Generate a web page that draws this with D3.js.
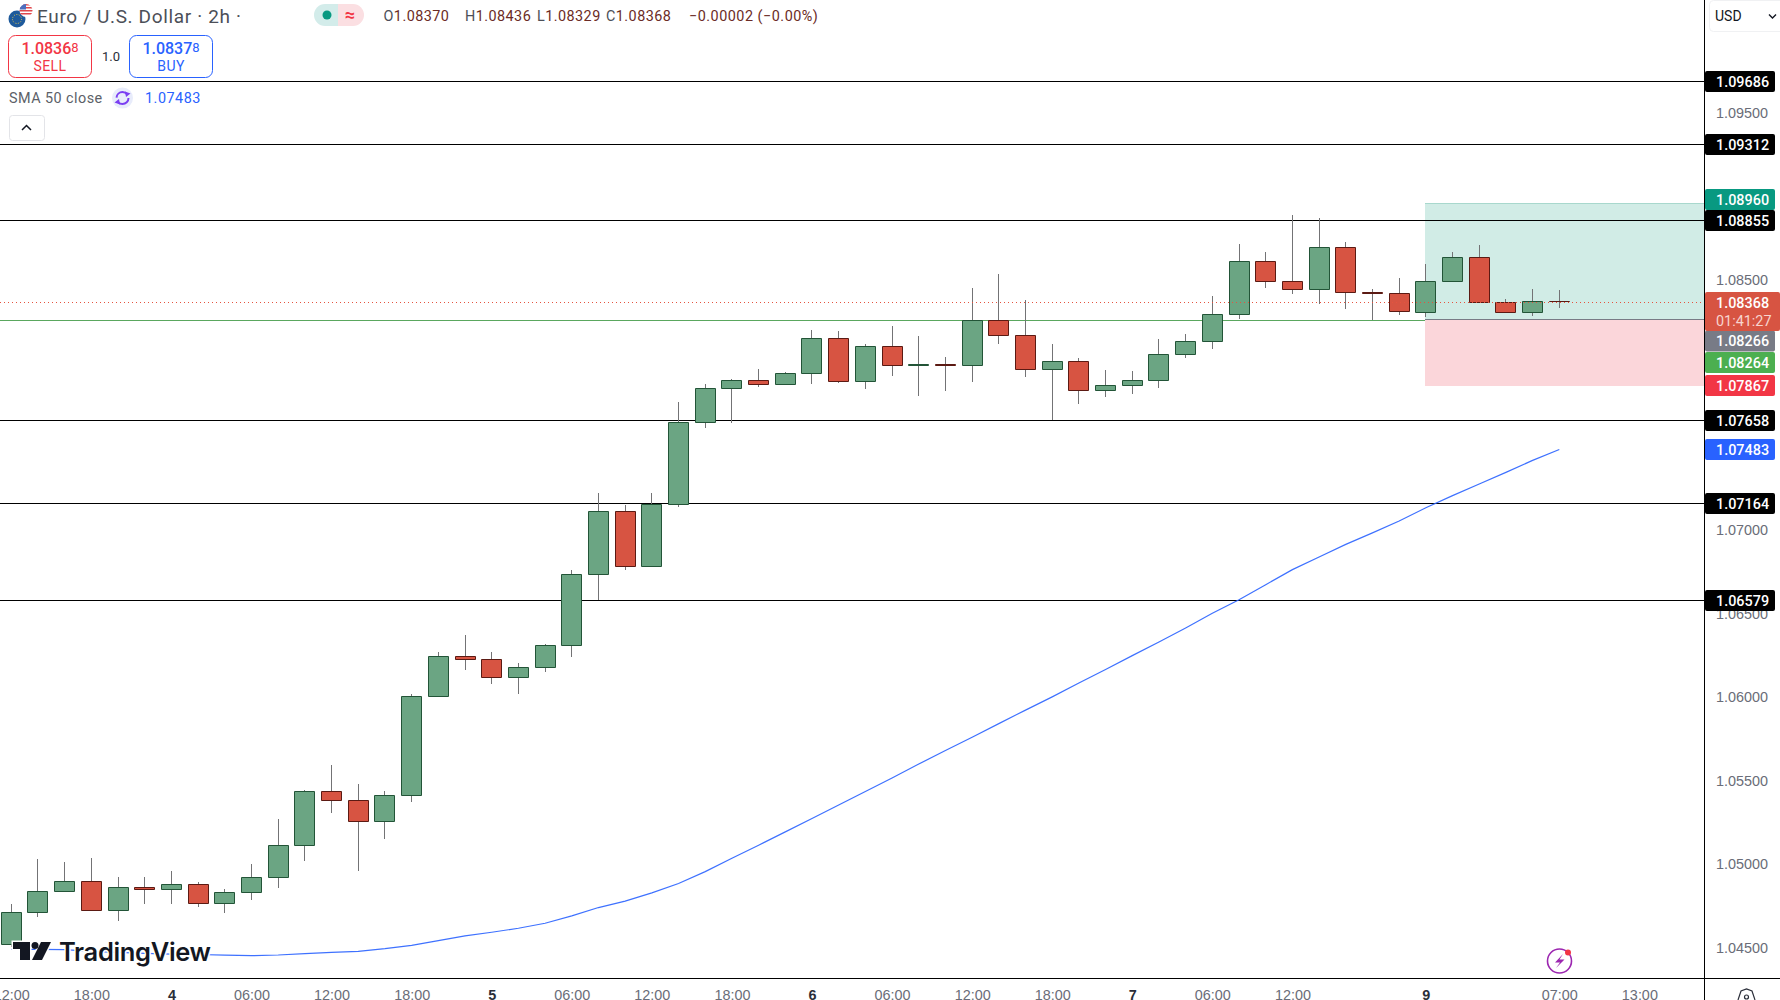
<!DOCTYPE html>
<html>
<head>
  <meta charset="utf-8">
  <script src="https://cdn.jsdelivr.net/npm/d3@7"></script>
  <style type="text/css">
    html, body { margin: 0; padding: 0; background: #fff; overflow: hidden; }
    svg { display: block; font-family: Roboto, "Noto Sans", sans-serif; }
    .tick text { font-size: 14.4px; }
  </style>
</head>
<body>
<script type="text/javascript">
// Candle values, oldest first
var opens = [1.04519,1.04711,1.04837,1.04897,1.04723,1.04861,1.04849,1.04879,1.04765,1.04831,
  1.04921,1.05112,1.05436,1.05382,1.05256,1.05412,1.06005,1.06245,1.06227,1.06119,
  1.06179,1.06311,1.06736,1.07114,1.06784,1.07156,1.07647,1.07851,1.07899,1.07875,
  1.07941,1.08150,1.07893,1.08102,1.07987,1.07993,1.07989,1.08258,1.08168,1.07965,
  1.08013,1.07839,1.07869,1.07899,1.08055,1.08132,1.08294,1.08612,1.08492,1.08444,
  1.08696,1.08426,1.08420,1.08306,1.08492,1.08636,1.08366,1.08306,1.08370];
var highs = [1.04761,1.05031,1.05013,1.05037,1.04923,1.04923,1.04959,1.04891,1.04855,1.05001,
  1.05270,1.05442,1.05594,1.05480,1.05436,1.06017,1.06271,1.06373,1.06269,1.06203,
  1.06317,1.06760,1.07222,1.07152,1.07222,1.07767,1.07877,1.07905,1.07967,1.07947,
  1.08200,1.08194,1.08116,1.08224,1.08164,1.08039,1.08452,1.08536,1.08378,1.08116,
  1.08031,1.07959,1.07953,1.08144,1.08174,1.08404,1.08716,1.08668,1.08889,1.08871,
  1.08728,1.08446,1.08512,1.08596,1.08668,1.08710,1.08386,1.08446,1.08436];
var lows = [1.04505,1.04685,1.04837,1.04723,1.04661,1.04763,1.04763,1.04745,1.04709,1.04787,
  1.04859,1.05021,1.05308,1.04961,1.05152,1.05374,1.06005,1.06165,1.06081,1.06021,
  1.06153,1.06243,1.06582,1.06764,1.06784,1.07136,1.07609,1.07641,1.07855,1.07867,
  1.07873,1.07879,1.07843,1.07921,1.07801,1.07831,1.07885,1.08112,1.07915,1.07657,
  1.07753,1.07795,1.07813,1.07849,1.08029,1.08082,1.08264,1.08448,1.08412,1.08352,
  1.08322,1.08256,1.08286,1.08274,1.08484,1.08358,1.08306,1.08280,1.08329];
var closes = [1.04711,1.04837,1.04897,1.04723,1.04861,1.04849,1.04879,1.04765,1.04831,1.04921,
  1.05112,1.05436,1.05382,1.05256,1.05412,1.06005,1.06245,1.06227,1.06119,1.06179,
  1.06311,1.06736,1.07114,1.06784,1.07156,1.07647,1.07851,1.07899,1.07875,1.07941,
  1.08150,1.07893,1.08102,1.07989,1.07993,1.07987,1.08258,1.08168,1.07965,1.08013,
  1.07839,1.07869,1.07899,1.08055,1.08132,1.08294,1.08612,1.08492,1.08444,1.08696,
  1.08426,1.08418,1.08312,1.08492,1.08636,1.08366,1.08306,1.08372,1.08368];
var sma50 = [1.04491,1.04491,1.04489,1.04479,1.04473,1.04467,1.04462,1.04460,1.04456,1.04453,
  1.04457,1.04465,1.04473,1.04479,1.04495,1.04515,1.04543,1.04571,1.04593,1.04617,
  1.04647,1.04691,1.04741,1.04779,1.04829,1.04885,1.04956,1.05036,1.05114,1.05194,
  1.05274,1.05355,1.05436,1.05517,1.05600,1.05681,1.05761,1.05842,1.05923,1.06002,
  1.06085,1.06166,1.06249,1.06331,1.06415,1.06503,1.06584,1.06674,1.06764,1.06840,
  1.06915,1.06984,1.07055,1.07134,1.07207,1.07277,1.07346,1.07418,1.07483];

// Support / resistance levels and the long position tool
var levels = [1.09686,1.09312,1.08855,1.07658,1.07164,1.06579];
var lastPrice = 1.08368;
var entryPrice = 1.08266;
var entryLine = 1.08264;
var targetPrice = 1.08960;
var stopPrice = 1.07867;
var positionStart = 53;

// Axis ticks
var priceTicks = [1.045,1.05,1.055,1.06,1.065,1.07,1.085,1.095];
var timeTicks = [0,3,6,9,12,15,18,21,24,27,30,33,36,39,42,45,48,53,58,61];
var timeLabels = ["12:00","18:00","4","06:00","12:00","18:00","5","06:00","12:00","18:00",
  "6","06:00","12:00","18:00","7","06:00","12:00","9","07:00","13:00"];
var dayLabels = ["4","5","6","7","9"];

var width = 1780, height = 1000;
var axisX = 1704, axisY = 978;

var UP_FILL = "#6ba583", UP_LINE = "#225437";
var DOWN_FILL = "#d75442", DOWN_LINE = "#5b1a13";
var WICK = "#737375", BLUE = "#2962ff";

var svg = d3.select("body").append("svg")
  .attr("width", width)
  .attr("height", height);

var x = d3.scaleLinear().domain([0, 58]).range([11.3, 1559.3]);
var y = d3.scaleLinear().domain([1.045, 1.07]).range([947.8, 530.2]);

// snap to the pixel grid so 1px lines stay sharp
function sx(i) { return Math.floor(x(i)) + 0.5; }
function sy(v) { return Math.round(y(v) - 0.3) + 0.5; }
// the position tool and last price line sit one pixel lower than plain rounding
function syLow(v) { return Math.ceil(y(v)) + 0.5; }

svg.append("clipPath").attr("id", "pane")
  .append("rect").attr("width", axisX).attr("height", axisY);

var pane = svg.append("g").attr("clip-path", "url(#pane)");

// Position tool
var boxX = sx(positionStart) - 0.5;
pane.append("rect")
  .attr("x", boxX).attr("width", axisX - boxX)
  .attr("y", Math.ceil(y(targetPrice))).attr("height", Math.ceil(y(entryPrice)) - Math.ceil(y(targetPrice)))
  .attr("fill", "#d1ece6");
pane.append("rect")
  .attr("x", boxX).attr("width", axisX - boxX)
  .attr("y", Math.ceil(y(entryPrice))).attr("height", Math.ceil(y(stopPrice)) - Math.ceil(y(entryPrice)))
  .attr("fill", "#fbd6da");
pane.append("line")
  .attr("x1", boxX).attr("x2", axisX)
  .attr("y1", syLow(targetPrice)).attr("y2", syLow(targetPrice))
  .attr("stroke", "#a8d8cd");

// Horizontal levels
pane.selectAll(".level").data(levels).enter().append("line")
  .attr("class", "level")
  .attr("x1", 0).attr("x2", axisX)
  .attr("y1", sy).attr("y2", sy)
  .attr("stroke", "#000");
pane.append("line")
  .attr("x1", 0).attr("x2", boxX)
  .attr("y1", syLow(entryLine)).attr("y2", syLow(entryLine))
  .attr("stroke", "#5aa75e");
pane.append("line")
  .attr("x1", boxX).attr("x2", axisX)
  .attr("y1", syLow(entryPrice)).attr("y2", syLow(entryPrice))
  .attr("stroke", "#787b86");

// Candles
var candles = pane.selectAll(".candle").data(opens).enter().append("g").attr("class", "candle");
candles.append("line")
  .attr("x1", function(d, i) { return sx(i); })
  .attr("x2", function(d, i) { return sx(i); })
  .attr("y1", function(d, i) { return Math.round(y(highs[i])); })
  .attr("y2", function(d, i) { return Math.round(y(lows[i])); })
  .attr("stroke", WICK);
// a path, because a zero height rect would not paint for the doji candles
candles.append("path")
  .attr("d", function(d, i) {
    var top = sy(Math.max(d, closes[i])), bottom = sy(Math.min(d, closes[i]));
    return "M" + (sx(i) - 10) + "," + top + "h20V" + bottom + "h-20Z";
  })
  .attr("fill", function(d, i) { return closes[i] >= d ? UP_FILL : DOWN_FILL; })
  .attr("stroke", function(d, i) { return closes[i] >= d ? UP_LINE : DOWN_LINE; });

// Last price dotted line
pane.append("line")
  .attr("x1", 0).attr("x2", axisX)
  .attr("y1", syLow(lastPrice)).attr("y2", syLow(lastPrice))
  .attr("stroke", "#e5533f")
  .attr("stroke-dasharray", "1 3");

// SMA 50
var smaLine = d3.line()
  .x(function(d, i) { return x(i); })
  .y(function(d) { return y(d); });
pane.append("path")
  .attr("d", smaLine(sma50))
  .attr("fill", "none")
  .attr("stroke", BLUE)
  .attr("stroke-opacity", 0.9)
  .attr("stroke-width", 1.2);

// TradingView watermark
var logo = svg.append("g").attr("fill", "#131722");
logo.append("path")
  .attr("d", "M13 942H30V960H20V949H13ZM41 942H51L42 960H32Z")
  .attr("stroke", "#fff").attr("stroke-width", 3).attr("paint-order", "stroke");
logo.append("circle").attr("cx", 35).attr("cy", 945.5).attr("r", 3.5);
logo.append("text")
  .attr("x", 59).attr("y", 961)
  .attr("font-family", "Inter")
  .attr("font-weight", 600)
  .attr("font-size", 25.5)
  .attr("textLength", 152)
  .attr("stroke", "#fff").attr("stroke-width", 3).attr("paint-order", "stroke")
  .text("TradingView");

// Price axis ticks
var yAxis = d3.axisRight(y)
  .tickValues(priceTicks)
  .tickFormat(d3.format(".5f"))
  .tickSize(0)
  .tickPadding(12);
var yG = svg.append("g").attr("transform", "translate(" + axisX + ",0)").call(yAxis);
yG.select(".domain").remove();
yG.selectAll("text").attr("fill", "#6a6d78");

// Time axis ticks
var xAxis = d3.axisBottom(x)
  .tickValues(timeTicks)
  .tickFormat(function(d, i) { return timeLabels[i]; })
  .tickSize(0)
  .tickPadding(0);
var xG = svg.append("g").attr("transform", "translate(0," + (axisY + 11.5) + ")").call(xAxis);
xG.select(".domain").remove();
xG.selectAll("text")
  .attr("dy", "0.71em")
  .attr("fill", function(d, i) { return dayLabels.indexOf(timeLabels[i]) >= 0 ? "#2a2e39" : "#6a6d78"; })
  .attr("font-weight", function(d, i) { return dayLabels.indexOf(timeLabels[i]) >= 0 ? 700 : 400; });

// Axis frame
svg.append("line").attr("x1", axisX + 0.5).attr("x2", axisX + 0.5).attr("y1", 0).attr("y2", height).attr("stroke", "#000");
svg.append("line").attr("x1", 0).attr("x2", width).attr("y1", axisY + 0.5).attr("y2", axisY + 0.5).attr("stroke", "#000");

// Price labels on the axis
function priceLabel(value, color, cy) {
  svg.append("rect")
    .attr("x", axisX + 1).attr("y", cy - 10.5)
    .attr("width", 70).attr("height", 21).attr("rx", 2)
    .attr("fill", color);
  svg.append("text")
    .attr("x", axisX + 12).attr("y", cy + 5)
    .attr("font-size", 14.4).attr("font-weight", 500)
    .attr("fill", "#fff")
    .text(d3.format(".5f")(value));
}
levels.forEach(function(v) { priceLabel(v, "#000", sy(v)); });
// these labels are pushed apart by the chart so they do not overlap
priceLabel(targetPrice, "#089981", 199.5);
priceLabel(entryPrice, "#787b86", 341);
priceLabel(entryLine, "#4caf50", 362.5);
priceLabel(stopPrice, "#f23645", 385.5);
priceLabel(d3.max(sma50), BLUE, sy(d3.max(sma50)));

svg.append("rect")
  .attr("x", axisX + 1).attr("y", 292).attr("width", 75).attr("height", 39).attr("rx", 2)
  .attr("fill", DOWN_FILL);
svg.append("text")
  .attr("x", axisX + 12).attr("y", 308)
  .attr("font-size", 14.4).attr("font-weight", 500).attr("fill", "#fff")
  .text(d3.format(".5f")(lastPrice));
svg.append("text")
  .attr("x", axisX + 12).attr("y", 326)
  .attr("font-size", 14.4).attr("fill", "#f7d4cf")
  .text("01:41:27");

// Header
var head = svg.append("g");
head.append("circle").attr("cx", 17).attr("cy", 19).attr("r", 8.5).attr("fill", "#1e5a9c");
head.append("circle").attr("cx", 17).attr("cy", 19).attr("r", 4.5).attr("fill", "none")
  .attr("stroke", "#e8c84a").attr("stroke-width", 1).attr("stroke-dasharray", "1 1.5");
head.append("clipPath").attr("id", "flag")
  .append("circle").attr("cx", 26).attr("cy", 10.5).attr("r", 6.5);
var flag = head.append("g").attr("clip-path", "url(#flag)");
flag.append("rect").attr("x", 19).attr("y", 3).attr("width", 14).attr("height", 14).attr("fill", "#fff");
[4, 7, 10, 13].forEach(function(s) {
  flag.append("rect").attr("x", 19).attr("y", s).attr("width", 14).attr("height", 1.5).attr("fill", "#e0474c");
});
flag.append("rect").attr("x", 19).attr("y", 3).attr("width", 7).attr("height", 6.5).attr("fill", "#4a6fc0");

head.append("text")
  .attr("x", 37).attr("y", 22.5)
  .attr("font-size", 19).attr("letter-spacing", 0.65).attr("fill", "#4c4f58")
  .text("Euro / U.S. Dollar · 2h ·");

head.append("path").attr("d", "M338 4H325A11 11 0 0 0 325 26H338Z").attr("fill", "#d3ecea");
head.append("path").attr("d", "M338 4H353A11 11 0 0 1 353 26H338Z").attr("fill", "#fbdfe2");
head.append("circle").attr("cx", 327).attr("cy", 15).attr("r", 4.5).attr("fill", "#089981");
head.append("text").attr("x", 350).attr("y", 21).attr("text-anchor", "middle")
  .attr("font-size", 18).attr("font-weight", 700).attr("fill", "#f23645").text("≈");

var ohlcLetter = ["O", "H", "L", "C"];
var ohlcValue = ["1.08370", "1.08436", "1.08329", "1.08368"];
var ohlcX = [383.5, 465, 537, 606];
ohlcLetter.forEach(function(l, i) {
  var t = head.append("text").attr("x", ohlcX[i]).attr("y", 21).attr("font-size", 14.4).attr("letter-spacing", 0.45);
  t.append("tspan").attr("fill", "#4c4f58").text(l);
  t.append("tspan").attr("fill", "#6b2b25").text(ohlcValue[i]);
});
head.append("text").attr("x", 689).attr("y", 21).attr("font-size", 14.4).attr("letter-spacing", 0.5)
  .attr("fill", "#6b2b25").text("−0.00002 (−0.00%)");

function tradeBox(x0, color, price, small, name) {
  head.append("rect")
    .attr("x", x0 + 0.5).attr("y", 35.5)
    .attr("width", 83).attr("height", 42).attr("rx", 7)
    .attr("fill", "#fff").attr("stroke", color);
  var t = head.append("text")
    .attr("x", x0 + 42).attr("y", 54)
    .attr("text-anchor", "middle").attr("fill", color);
  t.append("tspan").attr("font-size", 16).attr("font-weight", 500).text(price);
  t.append("tspan").attr("font-size", 13).attr("dy", -2).text(small);
  head.append("text")
    .attr("x", x0 + 42).attr("y", 71)
    .attr("text-anchor", "middle").attr("font-size", 14).attr("letter-spacing", 0.4).attr("fill", color)
    .text(name);
}
tradeBox(8, "#f23645", "1.0836", "8", "SELL");
tradeBox(129, BLUE, "1.0837", "8", "BUY");
head.append("text").attr("x", 111).attr("y", 60.5).attr("text-anchor", "middle")
  .attr("font-size", 13).attr("fill", "#2a2e39").text("1.0");

head.append("text").attr("x", 9).attr("y", 103)
  .attr("font-size", 14.4).attr("letter-spacing", 0.45).attr("fill", "#5c5f68").text("SMA 50 close");
head.append("circle").attr("cx", 122.5).attr("cy", 98).attr("r", 10.5).attr("fill", "#e8ecfb");
head.append("circle").attr("cx", 122.5).attr("cy", 98).attr("r", 6)
  .attr("fill", "none").attr("stroke", "#7b3ff2").attr("stroke-width", 2)
  .attr("stroke-dasharray", "14 4.8");
head.append("path").attr("d", "M125 91.5L130.5 93.5L126 97ZM120 104.5L114.5 102.5L119 99Z").attr("fill", "#7b3ff2");
head.append("text").attr("x", 145).attr("y", 103)
  .attr("font-size", 14.4).attr("letter-spacing", 0.5).attr("fill", BLUE)
  .text(d3.format(".5f")(d3.max(sma50)));

head.append("rect").attr("x", 9.5).attr("y", 115.5).attr("width", 35).attr("height", 25).attr("rx", 3)
  .attr("fill", "#fff").attr("stroke", "#e3e4e8");
head.append("path").attr("d", "M22 130L26.5 125.5L31 130").attr("fill", "none")
  .attr("stroke", "#131722").attr("stroke-width", 1.5);

// Currency selector
head.append("rect").attr("x", 1709.5).attr("y", 0.5).attr("width", 75).attr("height", 31).attr("rx", 4)
  .attr("fill", "#fff").attr("stroke", "#f0f1f3");
head.append("text").attr("x", 1715).attr("y", 21).attr("font-size", 14).attr("fill", "#131722").text("USD");
head.append("path").attr("d", "M1769 14.5L1772.5 18L1776 14.5").attr("fill", "none")
  .attr("stroke", "#131722").attr("stroke-width", 1.4);

// Lightning badge and settings hexagon
head.append("circle").attr("cx", 1559.5).attr("cy", 961).attr("r", 12)
  .attr("fill", "#fff").attr("stroke", "#9c27b0").attr("stroke-width", 1.6);
head.append("path").attr("d", "M1563 954L1555 962.5H1560L1556 968L1564.5 959.5H1559.5Z").attr("fill", "#9c27b0");
head.append("circle").attr("cx", 1568).attr("cy", 952.5).attr("r", 3).attr("fill", "#f23645");
head.append("path").attr("d", "M1738 1000L1741 991L1746.5 989L1752 991L1755 1000").attr("fill", "none")
  .attr("stroke", "#2a2e39").attr("stroke-width", 1.2);
head.append("circle").attr("cx", 1746.5).attr("cy", 997).attr("r", 2).attr("fill", "none")
  .attr("stroke", "#2a2e39").attr("stroke-width", 1.2);
</script>
</body>
</html>
